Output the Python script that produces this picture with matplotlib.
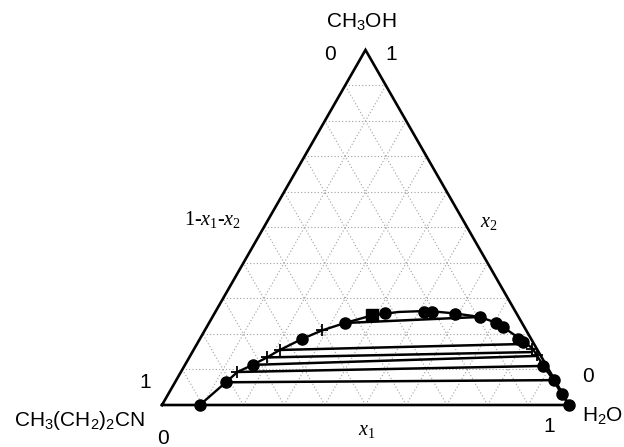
import numpy as np
import matplotlib
matplotlib.use("Agg")
import matplotlib.pyplot as plt

# ── data: (x1 = H2O, x2 = CH3OH) mole fractions ──────────────────────────
curve_x1 = [0.093, 0.125, 0.139, 0.166, 0.191, 0.212, 0.251, 0.288, 0.334, 0.389,
            0.450, 0.520, 0.590, 0.657, 0.710, 0.780, 0.830, 0.882, 0.927, 0.967, 1.000]
curve_x2 = [0.000, 0.064, 0.093, 0.113, 0.134, 0.155, 0.186, 0.210, 0.231, 0.252,
            0.262, 0.265, 0.258, 0.248, 0.230, 0.190, 0.160, 0.110, 0.070, 0.030, 0.000]

dot_x1 = [0.093, 0.125, 0.166, 0.251, 0.334, 0.419, 0.512, 0.532, 0.592, 0.657,
          0.705, 0.728, 0.782, 0.799, 0.882, 0.927, 0.967, 1.000]
dot_x2 = [0.000, 0.064, 0.113, 0.186, 0.231, 0.258, 0.263, 0.262, 0.256, 0.248,
          0.232, 0.220, 0.187, 0.177, 0.110, 0.070, 0.030, 0.000]

cross_x1 = [0.139, 0.191, 0.212, 0.288, 0.829, 0.850]
cross_x2 = [0.093, 0.134, 0.155, 0.210, 0.159, 0.141]

plait_x1 = [0.389]
plait_x2 = [0.254]

# tie lines: left phase -> right phase
tie_left_x1 = [0.125, 0.139, 0.166, 0.191, 0.212, 0.334]
tie_left_x2 = [0.064, 0.093, 0.113, 0.134, 0.155, 0.231]
tie_right_x1 = [0.927, 0.882, 0.847, 0.832, 0.808, 0.657]
tie_right_x2 = [0.070, 0.110, 0.138, 0.149, 0.172, 0.248]

H = np.sqrt(3) / 2

plt.rcParams["mathtext.fontset"] = "custom"
plt.rcParams["mathtext.it"] = "Liberation Serif:italic"
plt.rcParams["mathtext.rm"] = "Liberation Serif"
plt.rcParams["mathtext.sf"] = "Liberation Sans"


def tern(x1, x2):
    x1 = np.asarray(x1, float)
    x2 = np.asarray(x2, float)
    return x1 + x2 / 2, x2 * H


fig = plt.figure(figsize=(6.24, 4.47), dpi=100)
ax = fig.add_axes([0, 0, 1, 1])
ax.set_xlim(-162 / 407, (624 - 162) / 407)
ax.set_ylim(-42 / 410, (447 - 42) / 410)
ax.axis("off")

# dotted grid
grid_kw = dict(color="#a0a0a0", lw=0.8, ls=(0, (1, 2)), zorder=1)
for k in np.arange(1, 10) / 10:
    X, Y = tern([0, 1 - k], [k, k])       # constant x2
    ax.plot(X, Y, **grid_kw)
    X, Y = tern([k, k], [0, 1 - k])       # constant x1
    ax.plot(X, Y, **grid_kw)
    X, Y = tern([1 - k, 0], [0, 1 - k])   # constant 1-x1-x2
    ax.plot(X, Y, **grid_kw)

# triangle
X, Y = tern([0, 1, 0, 0], [0, 0, 1, 0])
ax.plot(X, Y, color="black", lw=1.9, zorder=3, solid_joinstyle="miter")

# tie lines
for a, b, c, d in zip(tie_left_x1, tie_left_x2, tie_right_x1, tie_right_x2):
    X, Y = tern([a, c], [b, d])
    ax.plot(X, Y, color="black", lw=1.8, zorder=4)

# binodal curve
X, Y = tern(curve_x1, curve_x2)
ax.plot(X, Y, color="black", lw=1.7, zorder=4)

X, Y = tern(dot_x1, dot_x2)
ax.plot(X, Y, "o", color="black", ms=8, zorder=5)
X, Y = tern(cross_x1, cross_x2)
ax.plot(X, Y, "+", color="black", ms=8, mew=1.3, zorder=5)
X, Y = tern(plait_x1, plait_x2)
ax.plot(X, Y, "s", color="black", ms=9, zorder=5)


def px(x, y):
    # pixel position (from top-left) -> data coords
    return (x - 162) / 407, (447 - y - 42) / 410


sans = dict(family="Liberation Sans", fontsize=15, color="black")
serif = dict(family="Liberation Serif", fontsize=14.5, color="black")

ax.text(*px(361, 22), r"CH$_\mathsf{3}$OH", ha="center", va="center", **sans)
ax.text(*px(330, 55), "0", ha="center", va="center", **sans)
ax.text(*px(391, 54), "1", ha="center", va="center", **sans)
ax.text(*px(145, 382), "1", ha="center", va="center", **sans)
ax.text(*px(163, 438), "0", ha="center", va="center", **sans)
ax.text(*px(80, 420), r"CH$_\mathsf{3}$(CH$_\mathsf{2}$)$_\mathsf{2}$CN",
        ha="center", va="center", **sans)
ax.text(*px(588, 377), "0", ha="center", va="center", **sans)
ax.text(*px(549, 426), "1", ha="center", va="center", **sans)
ax.text(*px(603, 415), r"H$_\mathsf{2}$O", ha="center", va="center", **sans)

ax.text(*px(213, 220), r"1-$x_1$-$x_2$", ha="center", va="center", **serif)
ax.text(*px(489, 222), r"$x_2$", ha="center", va="center", **serif)
ax.text(*px(367, 430), r"$x_1$", ha="center", va="center", **serif)

fig.savefig("out.png", dpi=100)
